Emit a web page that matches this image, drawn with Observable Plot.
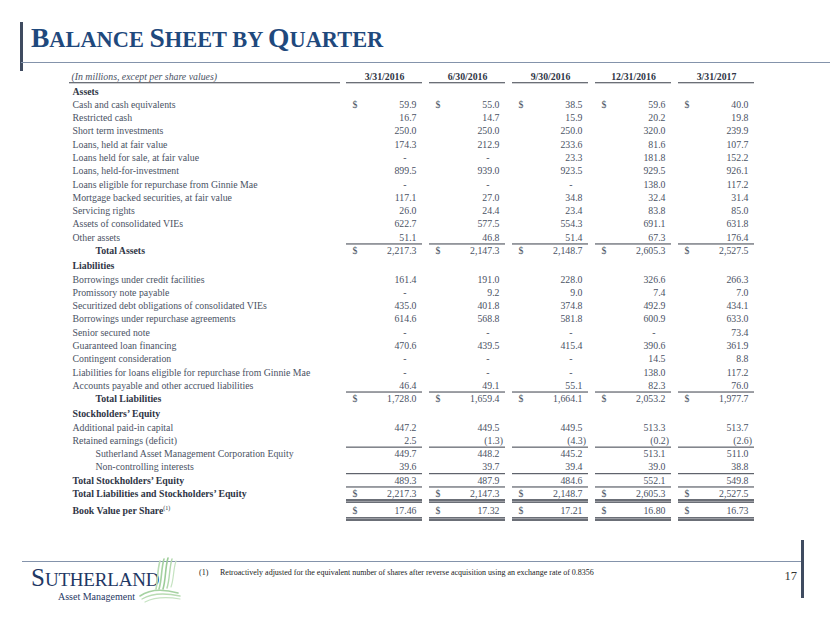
<!DOCTYPE html>
<html><head><meta charset="utf-8">
<script src="https://cdn.jsdelivr.net/npm/d3@7"></script>
<script src="https://cdn.jsdelivr.net/npm/@observablehq/plot@0.6"></script>
<style>
html,body{margin:0;padding:0;background:#fff;}
#page{position:relative;width:830px;height:623px;overflow:hidden;font-family:"Liberation Serif","Times New Roman",serif;}
#chart{position:absolute;left:0;top:0;}
.bar-left{position:absolute;left:20px;top:22px;width:2.5px;height:49px;background:#3f4b60;}
.line-top{position:absolute;left:21px;top:62px;width:809px;height:1.2px;background:#8493ab;}
.title{position:absolute;left:31px;top:24px;color:#1F497D;font-weight:bold;white-space:nowrap;line-height:1;}
.title .b{font-size:27.5px;}
.title .s{font-size:22.4px;}
.line-foot{position:absolute;left:22px;top:560.5px;width:780px;height:1.2px;background:#8493ab;}
.bar-right{position:absolute;left:801px;top:540px;width:2.5px;height:58px;background:#3f4b60;}
.pageno{position:absolute;left:770px;width:27px;text-align:right;top:569px;font-size:12.5px;color:#333;}
.foot{position:absolute;top:568px;font-size:8px;color:#222;white-space:nowrap;}
.logo{position:absolute;left:31px;top:565px;color:#1F3864;white-space:nowrap;line-height:1;}
.logo .b{font-size:25px;}
.logo .s{font-size:19px;letter-spacing:-0.2px;}
.logo2{position:absolute;left:58px;top:591px;color:#1F3864;font-size:10px;white-space:nowrap;}
.waves{position:absolute;left:130px;top:555px;}
</style></head><body>
<div id="page">
  <div id="chart"></div>
  <div class="bar-left"></div>
  <div class="line-top"></div>
  <div class="title"><span class="b">B</span><span class="s">ALANCE </span><span class="b">S</span><span class="s">HEET BY </span><span class="b">Q</span><span class="s">UARTER</span></div>
  <div class="line-foot"></div>
  <div class="bar-right"></div>
  <div class="pageno">17</div>
  <div class="foot" style="left:199px">(1)</div>
  <div class="foot" style="left:220px">Retroactively adjusted for the equivalent number of shares after reverse acquisition using an exchange rate of 0.8356</div>
  <div class="logo"><span class="b">S</span><span class="s">UTHERLAND</span></div>
  <div class="logo2">Asset Management</div>
  <svg class="waves" width="60" height="50" viewBox="0 0 60 50">
    <g fill="none" stroke-linecap="round">
      <path d="M30 6 C27 16 28 26 26 34" stroke="#b9dcb4" stroke-width="1.6"/>
      <path d="M34 4 C31 14 32 25 29 34" stroke="#a6d2a2" stroke-width="1.6"/>
      <path d="M38 3 C35 13 36 24 33 34" stroke="#9ccc98" stroke-width="1.6"/>
      <path d="M42 4 C39 14 40 24 37 33" stroke="#b3d9ae" stroke-width="1.4"/>
      <path d="M46 6 C43 15 44 24 41 32" stroke="#c6e3c2" stroke-width="1.2"/>
      <path d="M10 41 C20 34 34 34 48 38" stroke="#a6d2a2" stroke-width="1.6"/>
      <path d="M12 44 C22 38 36 38 50 41" stroke="#b9dcb4" stroke-width="1.4"/>
      <path d="M15 47 C25 42 38 42 50 44" stroke="#c6e3c2" stroke-width="1.2"/>
    </g>
  </svg>
</div>
<script>
// ---- Data ----
const quarters = ["3/31/2016", "6/30/2016", "9/30/2016", "12/31/2016", "3/31/2017"];

const rowLabels = [
  "Assets",
  "Cash and cash equivalents",
  "Restricted cash",
  "Short term investments",
  "Loans, held at fair value",
  "Loans held for sale, at fair value",
  "Loans, held-for-investment",
  "Loans eligible for repurchase from Ginnie Mae",
  "Mortgage backed securities, at fair value",
  "Servicing rights",
  "Assets of consolidated VIEs",
  "Other assets",
  "Total Assets",
  "Liabilities",
  "Borrowings under credit facilities",
  "Promissory note payable",
  "Securitized debt obligations of consolidated VIEs",
  "Borrowings under repurchase agreements",
  "Senior secured note",
  "Guaranteed loan financing",
  "Contingent consideration",
  "Liabilities for loans eligible for repurchase from Ginnie Mae",
  "Accounts payable and other accrued liabilities",
  "Total Liabilities",
  "Stockholders’ Equity",
  "Additional paid-in capital",
  "Retained earnings (deficit)",
  "Sutherland Asset Management Corporation Equity",
  "Non-controlling interests",
  "Total Stockholders’ Equity",
  "Total Liabilities and Stockholders’ Equity",
  "Book Value per Share"
];

// null = section heading (no value), 0 = "-"
const values_3_31_2016 = [null, 59.9, 16.7, 250.0, 174.3, 0, 899.5, 0, 117.1, 26.0, 622.7, 51.1, 2217.3,
  null, 161.4, 0, 435.0, 614.6, 0, 470.6, 0, 0, 46.4, 1728.0,
  null, 447.2, 2.5, 449.7, 39.6, 489.3, 2217.3, 17.46];
const values_6_30_2016 = [null, 55.0, 14.7, 250.0, 212.9, 0, 939.0, 0, 27.0, 24.4, 577.5, 46.8, 2147.3,
  null, 191.0, 9.2, 401.8, 568.8, 0, 439.5, 0, 0, 49.1, 1659.4,
  null, 449.5, -1.3, 448.2, 39.7, 487.9, 2147.3, 17.32];
const values_9_30_2016 = [null, 38.5, 15.9, 250.0, 233.6, 23.3, 923.5, 0, 34.8, 23.4, 554.3, 51.4, 2148.7,
  null, 228.0, 9.0, 374.8, 581.8, 0, 415.4, 0, 0, 55.1, 1664.1,
  null, 449.5, -4.3, 445.2, 39.4, 484.6, 2148.7, 17.21];
const values_12_31_2016 = [null, 59.6, 20.2, 320.0, 81.6, 181.8, 929.5, 138.0, 32.4, 83.8, 691.1, 67.3, 2605.3,
  null, 326.6, 7.4, 492.9, 600.9, 0, 390.6, 14.5, 138.0, 82.3, 2053.2,
  null, 513.3, -0.2, 513.1, 39.0, 552.1, 2605.3, 16.80];
const values_3_31_2017 = [null, 40.0, 19.8, 239.9, 107.7, 152.2, 926.1, 117.2, 31.4, 85.0, 631.8, 176.4, 2527.5,
  null, 266.3, 7.0, 434.1, 633.0, 73.4, 361.9, 8.8, 117.2, 76.0, 1977.7,
  null, 513.7, -2.6, 511.0, 38.8, 549.8, 2527.5, 16.73];

const headerNote = "(In millions, except per share values)";

// ---- Build table ----
const series = [values_3_31_2016, values_6_30_2016, values_9_30_2016, values_12_31_2016, values_3_31_2017];

const gapAfter = new Map([["Total Assets", 0.15], ["Total Liabilities", 0.15], ["Total Liabilities and Stockholders’ Equity", 0.25]]);
let acc = 0;
const rows = rowLabels.map((label, i) => {
  const r = {label, i, pos: i + acc};
  acc += gapAfter.get(label) || 0;
  return r;
});
const posOf = new Map(rows.map(r => [r.label, r.pos]));

const sectionHeads = new Set(["Assets", "Liabilities", "Stockholders’ Equity"]);
const indentBold = new Set(["Total Assets", "Total Liabilities"]);
const indentPlain = new Set(["Sutherland Asset Management Corporation Equity", "Non-controlling interests"]);
const boldLeft = new Set(["Total Stockholders’ Equity", "Total Liabilities and Stockholders’ Equity", "Book Value per Share"]);
const dollarRows = new Set(["Cash and cash equivalents", "Total Assets", "Total Liabilities", "Total Liabilities and Stockholders’ Equity", "Book Value per Share"]);
const perShare = "Book Value per Share";

const cells = [];
quarters.forEach((q, qi) => {
  rows.forEach(r => {
    const v = series[qi][r.i];
    if (v == null) return;
    const f = d3.format(r.label === perShare ? ",.2f" : ",.1f");
    let text, kind;
    if (v === 0) { text = "-"; kind = "dash"; }
    else if (v < 0) { text = "(" + f(-v) + ")"; kind = "neg"; }
    else { text = f(v); kind = "pos"; }
    cells.push({quarter: q, pos: r.pos, label: r.label, v, text, kind});
  });
});
const dollars = quarters.flatMap(q => rows.filter(r => dollarRows.has(r.label)).map(r => ({quarter: q, pos: r.pos})));

const lineAbove = ["Total Assets", "Total Liabilities", "Sutherland Asset Management Corporation Equity",
  "Total Stockholders’ Equity", "Total Liabilities and Stockholders’ Equity"];
const singleLines = d3.cross(quarters, lineAbove).map(([q, l]) => ({quarter: q, y: posOf.get(l) - 0.52}));
const doubleLines = [];
quarters.forEach(q => {
  const a = posOf.get("Total Liabilities and Stockholders’ Equity");
  const b = posOf.get("Book Value per Share");
  [a + 0.46, a + 0.62, b + 0.56, b + 0.72].forEach(y => doubleLines.push({quarter: q, y}));
});

const headerY = -1.1;
const underlineY = -0.655;
const textColor = "#4a5264";
const boldColor = "#2f3646";
const font = "Liberation Serif";
const fs = 9.8;

const common = {y: "pos", fontFamily: font, fontSize: fs};

const chart = Plot.plot({
  width: 830,
  height: 623,
  margin: 0,
  style: {background: "transparent", fontFamily: font, fontSize: fs + "px", color: textColor},
  x: {type: "band", domain: quarters, range: [345, 755], paddingInner: 0.09, paddingOuter: 0, axis: null},
  y: {type: "linear", domain: [0, 31.55], range: [91, 91 + 31.55 * 13.28], axis: null},
  marks: [
    // header
    Plot.text([headerNote], {y: headerY, text: d => d, frameAnchor: "left", dx: 71, textAnchor: "start",
      fontStyle: "italic", fontFamily: font, fontSize: fs, fill: textColor}),
    Plot.text(quarters, {x: d => d, y: headerY, text: d => d, fontWeight: "bold", fontFamily: font, fontSize: fs, fill: boldColor}),
    Plot.tickY(quarters, {x: d => d, y: underlineY, stroke: "#3a3f4a", strokeWidth: 1.1}),
    Plot.ruleY([underlineY], {insetLeft: 69, insetRight: 490, stroke: "#3a3f4a", strokeWidth: 1.1}),
    // labels
    Plot.text(rows.filter(r => !indentBold.has(r.label) && !indentPlain.has(r.label) && !sectionHeads.has(r.label) && !boldLeft.has(r.label)),
      {...common, text: "label", frameAnchor: "left", dx: 72, textAnchor: "start", fill: textColor}),
    Plot.text(rows.filter(r => sectionHeads.has(r.label) || boldLeft.has(r.label)),
      {...common, text: "label", frameAnchor: "left", dx: 72, textAnchor: "start", fontWeight: "bold", fill: boldColor}),
    Plot.text(rows.filter(r => indentBold.has(r.label)),
      {...common, text: "label", frameAnchor: "left", dx: 95, textAnchor: "start", fontWeight: "bold", fill: boldColor}),
    Plot.text(rows.filter(r => indentPlain.has(r.label)),
      {...common, text: "label", frameAnchor: "left", dx: 95, textAnchor: "start", fill: textColor}),
    // values
    Plot.text(cells.filter(c => c.kind === "pos"), {...common, x: "quarter", text: "text", textAnchor: "end", dx: 32, fill: textColor}),
    Plot.text(cells.filter(c => c.kind === "neg"), {...common, x: "quarter", text: "text", textAnchor: "end", dx: 35.5, fill: textColor}),
    Plot.text(cells.filter(c => c.kind === "dash"), {...common, x: "quarter", text: "text", textAnchor: "end", dx: 22, fill: textColor}),
    Plot.text(dollars, {...common, x: "quarter", text: () => "$", textAnchor: "start", dx: -32, fill: textColor}),
    // rules
    Plot.tickY(singleLines, {x: "quarter", y: "y", stroke: "#3a3f4a", strokeWidth: 1}),
    Plot.tickY(doubleLines, {x: "quarter", y: "y", stroke: "#3a3f4a", strokeWidth: 1.4})
  ]
});
document.getElementById("chart").appendChild(chart);

// superscript footnote marker
d3.select(chart).selectAll("text").filter(function() { return this.textContent === perShare; })
  .append("tspan").attr("dy", "-4").attr("font-size", "6px").attr("font-weight", "normal").text("(1)");
</script>
</body></html>
